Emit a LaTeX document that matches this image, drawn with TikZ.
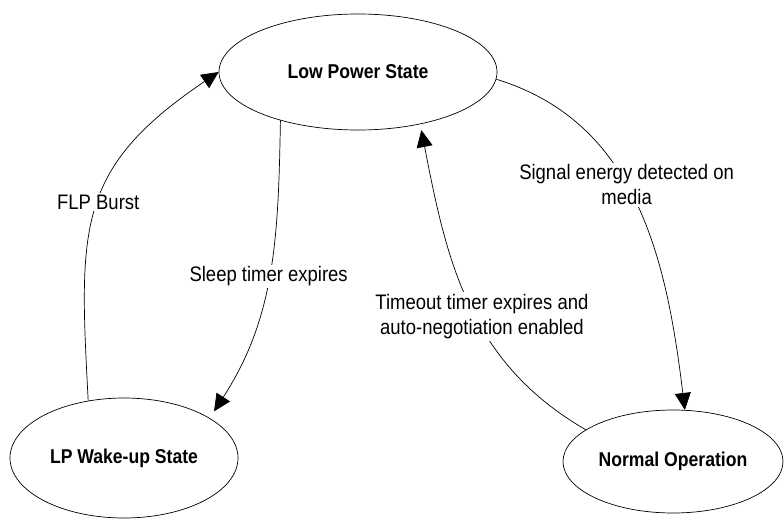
\documentclass[tikz,border=0pt]{standalone}
\usepackage{fontspec}
\setmainfont{Liberation Sans}[FakeStretch=0.88]
\usetikzlibrary{arrows.meta,shapes.geometric}

\begin{document}
\begin{tikzpicture}[x=1pt,y=1pt,
    state/.style={ellipse,draw,line width=0.7pt,inner sep=0pt,font=\fontsize{20}{24}\selectfont\bfseries},
    trans/.style={-{Triangle[length=17pt,width=16pt]},line width=0.7pt},
    lbl/.style={fill=white,inner sep=2pt,align=center,font=\fontsize{21}{25}\selectfont}]
    \useasboundingbox (0,0) rectangle (784,520);

    \node[state,minimum width=278pt,minimum height=116pt] (lp) at (358,448) {Low Power State};
    \node[state,minimum width=228pt,minimum height=120pt] (wake) at (124,62) {LP Wake-up State};
    \node[state,minimum width=220pt,minimum height=103pt] (norm) at (673,58.5) {Normal Operation};

    \draw[trans] (wake.122) to[out=93,in=214,looseness=1.25] node[lbl,pos=0.52] {FLP Burst} (lp.180);
    \draw[trans,shorten >=8pt] (lp.212) to[out=269,in=57] node[lbl,pos=0.5] {Sleep timer expires} (wake.25);
    \draw[trans] (lp.-3) to[out=-17,in=97] node[lbl,pos=0.44] {Signal energy detected on\\media} (norm.77);
    \draw[trans,shorten >=6pt] (norm.160) to[out=150,in=281] node[lbl,pos=0.45,xshift=6pt] {Timeout timer expires and\\auto-negotiation enabled} (lp.320);
\end{tikzpicture}
\end{document}
